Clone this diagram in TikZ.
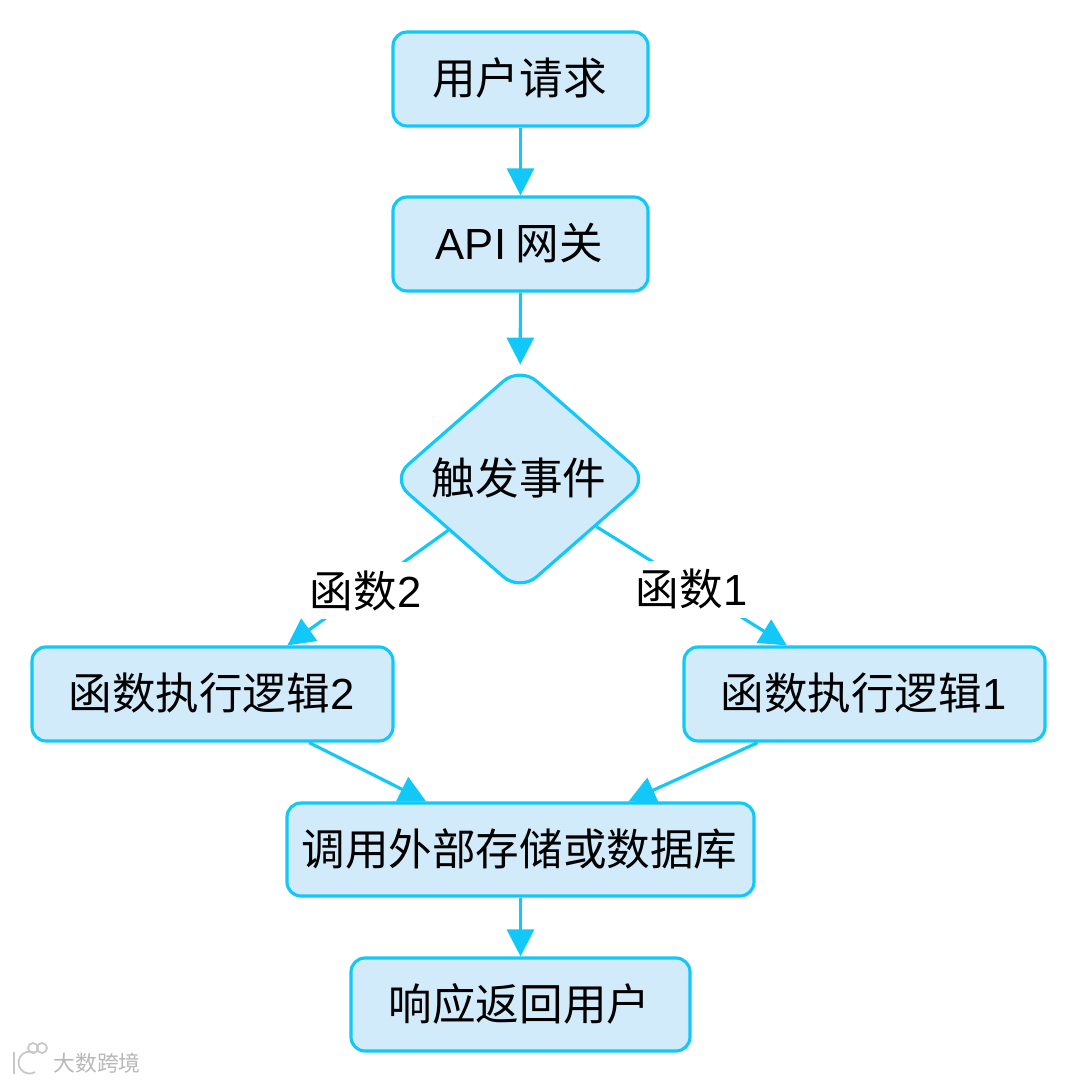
\documentclass[tikz,border=0pt]{standalone}
\usepackage{fontspec}
\setmainfont{Liberation Sans}
\newfontfamily\cjk{Noto Sans CJK SC}
\usetikzlibrary{arrows.meta, shapes.geometric}
\definecolor{flowline}{HTML}{12C8F8}
\definecolor{flowfill}{HTML}{D2EBFA}
\newcommand{\latin}[1]{{\fontspec{Liberation Sans}#1}}
\tikzset{
    base/.style={draw=flowline, fill=flowfill, line width=0.9pt, text=black, inner sep=0pt,
        font=\fontsize{12.4}{14}\selectfont\cjk, text height=0.38cm, text depth=0.07cm,
        execute at end node={\hspace{0.02cm}}},
    box/.style={base, rectangle, rounded corners=0.14cm, minimum height=0.94cm},
    choice/.style={base, diamond, rounded corners=0.22cm, minimum width=2.58cm, minimum height=2.26cm},
    flow/.style={draw=flowline, line width=0.9pt, -{Triangle[length=0.27cm, width=0.27cm]}},
    edgelabel/.style={fill=white, inner sep=0pt, minimum height=0.57cm, minimum width=1.1cm,
        yshift=-0.03cm, font=\fontsize{12.4}{14}\selectfont\cjk},
    wmark/.style={text=black!28, inner sep=0pt, font=\fontsize{6.2}{7}\selectfont\cjk},
    wstroke/.style={draw=black!22, line width=0.5pt}
}

\begin{document}
\begin{tikzpicture}
    \useasboundingbox (0,0) rectangle (10.8,-10.83);

    % Main column
    \node[box, minimum width=2.55cm] (request) at (5.205,-0.79) {用户请求};
    \node[box, minimum width=2.55cm] (gateway) at (5.205,-2.44) {\latin{API} 网关};
    \node[choice] (trigger) at (5.2,-4.79) {触发事件};

    % The two functions
    \node[box, minimum width=3.61cm] (logic2) at (2.125,-6.94) {函数执行逻辑\latin{2}};
    \node[box, minimum width=3.61cm] (logic1) at (8.645,-6.94) {函数执行逻辑\latin{1}};

    % Storage and reply
    \node[box, minimum width=4.67cm, minimum height=0.93cm] (store) at (5.205,-8.495) {调用外部存储或数据库};
    \node[box, minimum width=3.39cm, minimum height=0.93cm] (reply) at (5.205,-10.045) {响应返回用户};

    % Arrows
    \draw[flow] (request) -- (gateway);
    \draw[flow] (gateway) -- (trigger);
    \draw[flow] (trigger) -- node[edgelabel, xshift=-0.02cm] (label2) {函数\latin{2}} (logic2.33.7);
    \draw[flow] (trigger) -- node[edgelabel] (label1) {函数\latin{1}} (logic1.148.3);
    \draw[flow] (logic2) -- (store.153.6);
    \draw[flow] (logic1) -- (store.24.4);
    \draw[flow] (store) -- (reply);

    % Watermark
    \node[wmark] (wm) at (0.97,-10.63) {大数跨境};
    \draw[wstroke] (0.14,-10.52) -- (0.14,-10.74);
    \draw[wstroke] (0.35,-10.53) arc (60:300:0.11cm);
    \draw[wstroke] (0.33,-10.48) circle (0.05cm);
    \draw[wstroke] (0.42,-10.48) circle (0.05cm);
\end{tikzpicture}
\end{document}
